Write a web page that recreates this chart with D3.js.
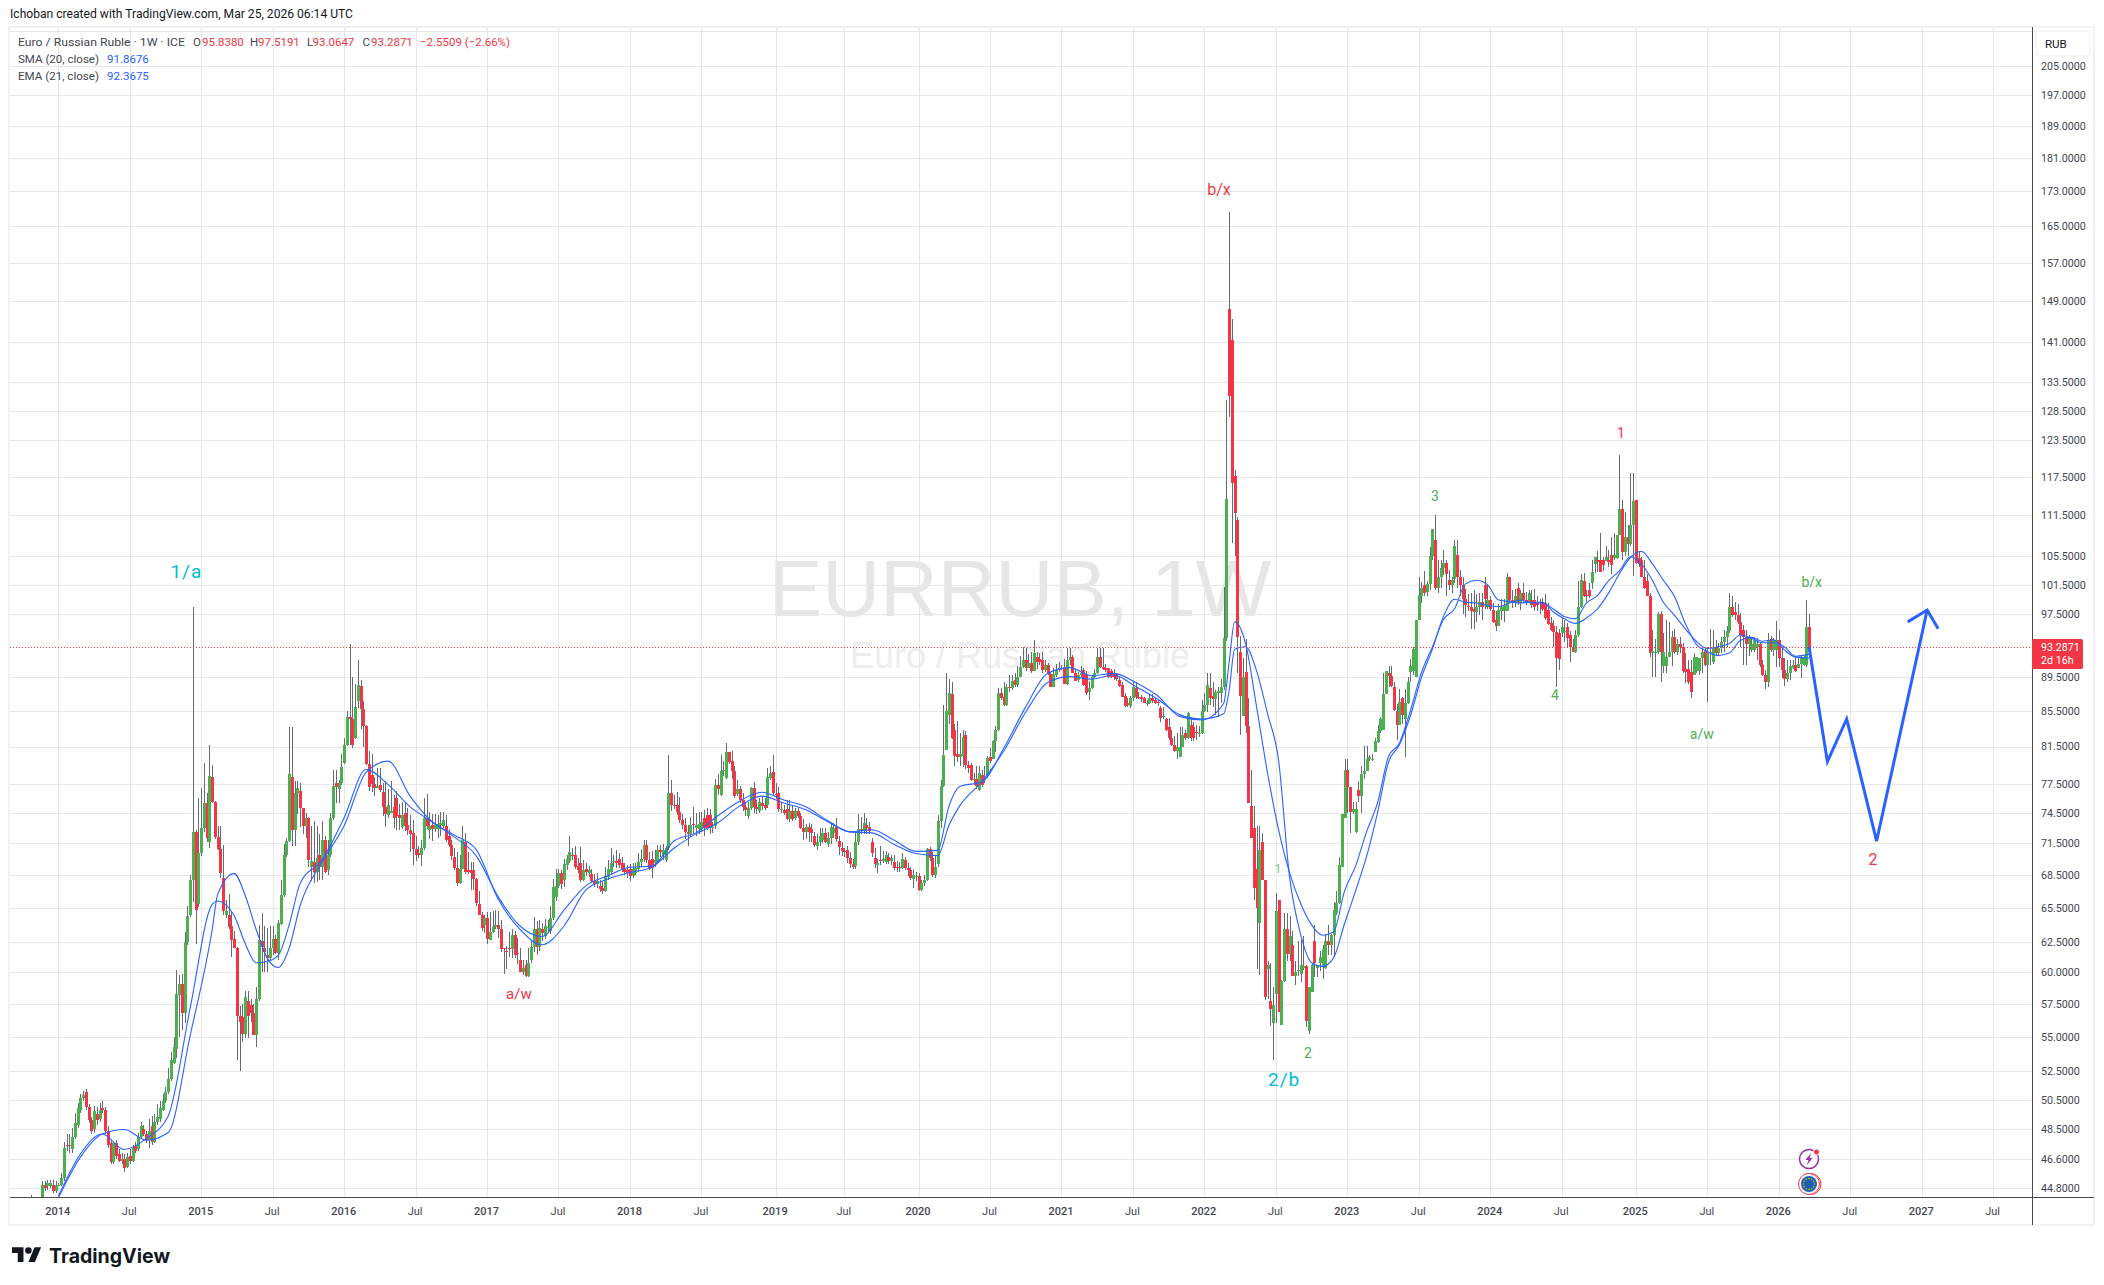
<!DOCTYPE html>
<html>
<head>
<meta charset="utf-8">
<title>EURRUB 1W</title>
<script src="https://cdn.jsdelivr.net/npm/d3@7"></script>
<style>
  html, body { margin: 0; padding: 0; background: #fff; }
  svg { display: block; }
  text { font-family: Roboto, "Liberation Sans", sans-serif; }
</style>
</head>
<body>
<svg id="chart" width="2104" height="1285"></svg>
<script>
// weekly bars, index 0 = first bar at the left edge of the pane
const opens = [
  43.9,44,43.9,44,44.1,45,44.9,44.9,45,44.6,
  45,45,45.4,47.5,47.5,47.2,48,48.8,49.8,50.6,
  51,50,49.1,48.5,49.5,49.2,49.9,49.8,48.4,47.6,
  46.4,47.6,46.9,46.5,46.6,46.1,46.8,46.5,47.4,47.2,
  48,48.5,48.2,47.8,48.7,47.7,49,49.2,49.8,50.4,
  51,51.9,53.1,54.1,58.2,59.1,56.8,62.5,64.9,68,
  72.6,65.8,70.5,73,75.5,71.6,78.2,75.6,72.1,70.9,
  68.2,64.9,64.9,63.9,62.8,62,56.6,56.5,55.2,57.7,
  57.4,56.8,55.1,57.9,62.6,62,61.4,61.2,62,62.8,
  61.6,64.1,66.6,70.4,71.7,78.2,72.8,76.5,76.7,75,
  73.2,74,69.2,69.7,68.8,70.4,69.2,71.8,68.9,70.4,
  74,77.6,76.9,77.6,79.7,81.7,84.8,84.6,82.4,86.7,
  88.5,85.7,83.8,79.6,78.4,77.5,77,77.4,76.6,75.1,
  74.3,74.5,75.1,76,74.3,73.1,74.5,73.3,72.8,72.5,
  70.9,70.5,70.4,71,74,72.8,73.3,72.9,72.9,73.3,
  73.2,73.2,72.2,71.3,70.2,69.1,67.7,69,71.6,68.9,
  68.9,68.9,68.1,65.8,64.9,64,64.6,62.7,63.4,63.8,
  64,63.6,62,61.8,62,61.9,63.1,61.6,61,60,
  60.6,59.7,61,62.1,63.6,62.1,63.6,63,63.7,63.5,
  64.6,66.5,67.5,68.7,68,69.4,69.8,70.4,70.4,69.3,
  69.6,68,69,68.7,68.6,67.9,67.6,67.5,67.3,67,
  68.3,68.8,69.7,69.8,70,69.6,69,68.9,69,68.4,
  68.7,69,69.7,70,71.3,69.9,70,69.6,69.9,70.8,
  70.4,69.9,71,76.5,75.3,75.3,74.6,73.8,73.3,72.6,
  72.4,73.4,73,72.9,73,74,74.3,74.3,73,73.2,
  77.4,76.3,78.9,78.1,80.9,79.9,78.8,76.4,76.9,75.8,
  75.1,74.2,75,77,75.1,74.7,75.5,75.3,75.3,78.1,
  78.7,76.4,76.5,74.9,74.8,74.9,73.9,74.7,74,74.7,
  74.2,73,72.6,73.1,72.9,72.2,71.2,71.6,71.8,72.5,
  71.4,72,72.5,73.1,71.7,71,70.7,70.8,70.1,69.5,
  69.3,71.6,72.9,72.7,73.3,73.1,71.6,70.1,69.4,69.9,
  69.8,69.7,70.2,69.8,69.7,69.2,69.2,69.1,69.9,69.1,
  68.9,68.1,68.4,68.4,67.1,67.7,68,70.9,70.1,68.5,
  69.5,73.7,77.3,81.1,85.1,87.5,83.4,80.7,80.4,80.5,
  82.8,79.5,79.5,77.9,78,76.8,78.4,77.9,78.3,80.3,
  80.1,82.1,83.4,87.6,87.1,86.2,88.3,88.2,89.2,88.6,
  89.6,90.8,91.7,90.7,91.3,90.3,92,91.8,91.6,90.4,
  91,89.9,88.4,89.8,90.4,90.6,90.6,88.7,91.7,92,
  90,89.2,89.8,90.4,89.9,87.7,88.2,89.5,90,92,
  90.8,90.6,90.6,90.3,90,89.9,89.2,88.6,87.3,86.4,
  86.1,87,88.2,87.2,87.1,87,86.4,86.4,87,86.8,
  86.6,85.9,84.8,84.6,83.7,82.5,81.7,81,80.3,81.5,
  83,82.4,83.9,83.7,83.1,83,83,85.5,86.2,88.2,
  87.3,86.9,87.6,87.6,88.3,94.4,147.5,141.4,117.6,110.8,
  92.7,85,90.2,83.8,75.2,73,69,64.2,71.6,68,
  60.3,57.7,56,58.3,66.2,55.9,59.3,63.6,61.5,62.3,
  59.7,60.2,59.9,60.4,60.5,55.4,58.4,62.6,60.4,60.8,
  60.5,60.4,62.6,62.3,63.1,65,65.9,69.2,74,78.9,
  77.1,74.6,72.6,76.8,76.2,78.5,78.8,80.1,80,80.9,
  82,83.2,83.4,87.5,90.1,89.7,88.3,85.5,83.9,87,
  84.6,86.4,90.2,90.3,89.6,96.8,100,101.5,100.5,101.6,
  105.5,107.8,101,102.6,103.8,104.5,102.2,101.5,102.3,105.6,
  102.6,101.4,99.5,98.6,98.5,98.2,97.8,98.5,99.2,101.5,
  98.5,99.4,98.1,96.7,96,97.9,98,98,102.5,99.4,
  99.2,101,99,100.3,99.4,99.2,99.4,99.4,99.2,99.2,
  99.2,99,98.1,96.3,95.9,95.2,95.1,95.1,95.2,95.8,
  94.8,93.3,92.7,94.8,98.5,102,100.1,100.7,101.7,104.4,
  104.9,104.9,104.9,104.8,104.9,105.6,105.2,105.2,108.6,112.4,
  106.1,108.2,107.2,110,113.9,105.2,105,102.6,102,100,
  92.5,92.5,92.6,97.6,90.9,90.9,92,92.6,94.5,92.6,
  93.6,93.3,90.5,90.5,90.2,89.8,90.3,90.3,91.9,92.8,
  91,92.5,91.4,93.2,92.5,93.1,93.9,94.6,95.3,98.5,
  97.8,97.4,96.5,95.4,94.6,93.7,92.9,92.9,93.3,93.6,
  91,89.8,88.9,94.3,92.9,92.9,94.2,91.9,90.4,89.3,
  90,90.7,91,90.6,91.1,91,91,95.838
];
const highs = [
  44.4,44.2,44.2,44.2,45.2,45.2,45.3,45.3,45.3,45.2,
  45.1,45.7,47.7,48.2,48.2,48.6,49.6,50.3,50.9,51.1,
  51.2,50.2,49.3,50.1,50,50.3,50.4,50,48.7,47.8,
  47.7,47.8,47.2,47,46.9,47,47.2,47.5,47.7,48.3,
  49,48.8,48.4,49.2,49.4,49.5,50.2,50.4,50.9,51.4,
  52.7,53.9,55,60.2,59.8,59.9,63.4,65.7,68.5,98.4,
  72.8,76,77,79.7,76.5,81.7,79.5,75.7,73.2,73.2,
  71.3,66.2,66.7,65.2,63.5,62.1,57.3,57.5,58.5,58.5,
  57.9,57.5,58.8,64,65,63.9,63.7,63.9,63.9,63.1,
  64.4,68,71.4,72,83.7,83.7,77.8,77.8,77.6,75,
  74.5,74.1,73.2,73.7,73.2,72.4,73.7,72.2,71.8,74.5,
  79,79,77.9,80.7,82.5,85.5,93.6,89.5,88.7,91.6,
  89.2,86.7,83.9,81,80.7,78.2,79.2,79.2,77.6,77.8,
  76.9,77.8,76.3,76.7,75.4,75.6,75.6,75,74.3,73.8,
  72.2,71.2,71.8,76,76.4,74.6,74.4,74.4,74.3,74.6,
  74.6,74.3,72.9,71.8,71,70.6,70.4,73.2,72.5,70.6,
  69.7,69.7,68.2,67,65.1,64.9,65.1,65.1,65.2,65.3,
  65.2,64.4,62,62.2,63.4,63.6,63.5,62.9,62,61,
  61,62,62.6,64.7,64.3,64.4,64.2,64.5,64.4,65.7,
  68.1,69,69,68.9,70,70.4,72.2,71,71.2,70.1,
  71.1,69.9,69.6,69.3,69,68.6,68.7,68,67.9,69.2,
  69.9,71,70.4,70.8,70.5,70.2,69.6,69.4,69.5,69.6,
  69.6,70.5,70.9,71.8,71.8,70.6,70.7,70.8,71.3,71.3,
  71.4,71.2,80.6,77.9,76.3,76.6,76.1,74.4,74,73.3,
  74.1,75.1,74.5,74.6,74.6,74.8,75,74.9,73.6,78,
  78.5,80.6,79.9,81.9,80.9,81,79.4,77.9,77.3,76.5,
  75.6,75.6,77.2,77.7,75.8,76,76.2,76,79.2,79.4,
  80.6,77.6,77.1,75.6,75.3,75.8,75.8,75.2,75,75,
  74.5,73.9,73.4,73.5,73.4,72.6,72.4,73,73,73,
  72.6,73.4,73.5,74,72.2,71.6,71,71.2,70.6,70,
  72.5,74.4,74.1,74.5,74,73.6,72,71,70,71.2,
  70.7,70.7,70.5,70.4,70.4,69.8,69.7,70.5,70.2,69.6,
  69.2,69,68.8,68.7,68,68.5,71,71.1,70.6,70.4,
  74.3,77.9,86.2,90,89.3,89,84,84.4,83,83.4,
  83.2,79.9,79.7,78.6,79.4,79.4,79,79.4,80.5,81.3,
  82.2,83.8,88.2,88.2,89,88.7,89.8,89.8,90,90.9,
  92.1,93.3,93.2,92.4,92.6,94.2,92.6,92.5,92.7,91.7,
  91.3,90.2,90.7,91.2,91.4,91,91.8,93.2,93.1,92.3,
  90.5,90.2,90.9,90.6,90.3,89.1,89.8,90.5,93.1,93.1,
  93.1,91.2,90.5,90.5,90.5,90,89.6,88.9,87.6,87,
  87.3,88.9,89,87.7,87.4,87.1,86.8,87.5,87.5,87,
  86.8,86.1,86,84.7,84.7,83.4,82.7,83,83.7,83.7,
  83.4,85.4,84.8,84.3,83.9,83.8,86.8,87.6,90,90,
  88.9,88,88.3,89.3,101.2,130.4,168.2,145.5,118.5,111.3,
  94.7,91.9,94.3,87,79,75.2,73.2,73.2,72.5,68,
  60.9,60.8,58.8,66.8,66.2,59.4,65,65,64.8,63.5,
  60.9,62.6,62.8,63,60.6,58.8,60.8,64,60.6,61.8,
  62.3,63.2,64,63.2,66,67,70.2,74.4,80.1,80.1,
  77.2,75.6,75.6,77.8,79.4,81.6,81.6,80.6,80.7,82.5,
  83.9,84.8,90,90.3,90.9,90.9,88.9,86.3,88.1,87.2,
  88.1,89.5,91.8,93.3,93.3,102.5,101.8,103.4,102,106.8,
  109.4,111.5,105,105,106.4,105,103.6,102.6,107.8,107.9,
  103.6,102.6,100.9,100.2,100.4,100.7,100.2,100.4,100.4,102.5,
  101.5,99.9,99,97.9,98.9,99.6,99.6,103.1,102.5,100.8,
  100.9,101.7,100.8,101.7,100.5,100.7,100.7,100.9,99.9,99.5,
  99.7,100.2,99,97.1,96.7,96,95.6,97,96.7,96.3,
  95.3,94.3,95.5,102,103,103.1,100.8,101.7,105,105.4,
  106.3,108.8,105.4,106.9,106.4,108.2,108.8,108.6,121,113.9,
  112,110.1,118,118.1,113.9,106.2,105.3,105,103,100.3,
  95.5,94.3,97.8,97.9,95.1,96.7,96.5,95.3,95.6,94.3,
  94.6,93.8,92.5,91.6,91.6,92.5,91.8,91.6,93.2,93.3,
  93.3,95.6,95.5,94.2,93.8,94.6,95.5,96,100.4,100,
  99.2,98.9,97.7,96.1,95.5,94.8,94.4,94.6,94.4,93.9,
  91.6,90.4,95.1,94.7,94.4,96.6,95.5,93.3,91.9,91.6,
  91.6,91.6,92.2,92,92.2,92.2,99.4,97.5191
];
const lows = [
  43.7,43.8,43.8,43.9,44,44.6,44.7,44.8,44.5,44.5,
  44.9,44.9,45.2,47.1,47,47,47.9,48.6,49.6,50.4,
  49.8,48.9,48.2,48.3,48.8,49,49.6,48.2,47.3,46.3,
  46.3,46.6,46.4,46.3,45.8,46,46.3,46.4,47,47.1,
  47.9,48.1,47.6,47.3,47.5,47.6,48.8,49,49.7,50.3,
  50.9,51.8,53,53.4,55,55.5,56,62.3,64.7,66,
  62.4,65.6,70.3,72.6,71.6,71,75.5,71.9,70.8,68.2,
  64.9,64.6,63.6,61.3,62,53.3,52.5,54.6,54.9,54.9,
  56.1,55.1,54.2,57.7,60,60,60,60.9,61.4,61.5,
  61,64,66.5,70.2,71.6,71.2,71.2,74.4,73.1,72.4,
  72,69.2,67.9,67.7,67.8,68,68,68.7,68.5,70.2,
  73.8,75.5,75.5,77.4,79.6,81.6,81.7,81.3,82.3,85.9,
  83.5,81.5,79.5,76.7,76.6,76.2,77,76.6,74.2,73.1,
  74,74.5,73,72.8,72.8,72.9,72.7,72.3,70.6,69.4,
  69.8,70.1,69.3,70.8,72.9,71.9,71.7,72.6,72,72.2,
  73,71.6,71.1,69.9,68.9,67.5,67.6,69,68.6,68.6,
  67.1,67.1,65.7,64.9,63.5,63.3,62.4,62.7,63.3,63.6,
  62.9,61.7,59.9,60.3,61.3,61.2,61.2,60.7,60,59.8,
  59.6,59.6,60.8,61.7,61.4,61.8,62.6,62.8,63.3,63.2,
  64.4,66.1,67.3,67.2,67.4,68.9,69.6,69.9,69,68.7,
  67.8,67.9,68.4,68.3,67.7,67.4,67.3,66.9,66.7,66.9,
  68,68.6,69.2,69.1,69.1,68.8,68.5,68.2,67.9,68.2,
  68.5,68.8,69.2,69.7,69.6,68.9,68.2,69.2,69.5,70.2,
  69.9,69.7,70.8,74.7,74.9,74.3,73.5,72.9,71.9,71.2,
  72.1,72.4,72.2,72.4,72.6,72.2,72.8,72.4,72.5,72.9,
  76.3,76.2,78.3,78,79.6,78,76,76.2,75.5,74.7,
  74.2,73.9,74.8,74.5,74.4,74.5,74.8,74.8,75,77.9,
  76.2,75.9,74.6,74.5,74.3,73.8,73.6,73.7,73.8,74,
  72.9,71.8,71.9,71.6,71.6,71.1,70.8,71.2,71.5,71.5,
  71.1,71.4,72,71.6,70.4,70.3,70.2,69.6,69.1,69,
  69,71.3,72.4,72.4,72.4,72.4,70.2,69.1,68.7,69.4,
  69.6,69.5,69.5,69.4,68.9,68.8,68.8,69,68.9,68.4,
  68,67.3,67.9,67,67,67.5,67.9,69.8,68.3,68.2,
  69.2,73,77.2,81.1,84,82.3,79.4,79.8,79.4,79.3,
  79.1,78.6,77.8,77.4,76.9,76.7,77.2,77.6,78.1,79.7,
  81.2,80.9,83.2,86.8,86.1,86.1,87.8,88,88.4,88.4,
  89.5,90.7,90.3,90.6,90.1,90.3,90.5,91,90.1,90.2,
  89.8,88.3,88.3,89.5,90.2,90.4,88.7,88.6,91,90,
  89.1,89,89.6,88.5,87.4,86.8,88.1,89.4,89.9,90.7,
  90.4,90.2,89.4,89.4,89.2,89.1,88.3,87.1,86,86,
  85.9,86.7,86.9,86.9,86.6,86.4,86.1,86.3,86.5,86.3,
  86.1,84.3,84.6,83.2,82.2,81.6,80.9,80.1,80.3,81.4,
  82.2,82.3,82.1,82.1,82.2,82.6,82.9,85.4,85.4,86.2,
  86,85.1,84.8,86.4,88,94,127.4,107.4,105.5,90,
  82.8,85,83,75.5,72,66.2,60.3,59.8,68,57.8,
  57.9,55.8,53.3,56,56.9,55.9,59.2,60.9,60.9,59.7,
  59,59.7,59.2,60.2,55.7,55.2,58.4,59.6,59.6,60.1,
  59.5,60.3,61.4,61.4,61.3,64.9,65.8,69.2,74,74.5,
  72.5,74.4,72.5,75.6,74.5,78,79,79.9,79.9,80.9,
  81.9,83,83.3,87.5,88.4,88.4,85.5,82.2,83.9,84,
  80.4,86.3,89,89.8,89.6,96.8,99,100,99.9,100.7,
  105,100.8,100.3,101.1,102.8,100,100.8,100.3,101.7,101,
  100,97.5,97.2,97.9,95.6,95.6,96.5,97.4,96.7,98.2,
  98.2,98,96.3,95.3,95.9,96.7,96.5,97.9,99,98.3,
  98.4,98.7,98.1,99,98.8,99,98.3,97.9,97.9,97.6,
  97.9,96.8,96.1,95.3,93.3,88.3,90.4,94.6,93.9,93.3,
  91.4,92.6,92.5,94.6,98.3,99.8,99.2,99.7,100.9,103.1,
  103.2,103.3,103.4,104.9,103.9,103,104.9,105.1,108.6,104.9,
  105.5,105.5,107,102.7,104.4,103.9,102.6,100.9,100,92,
  89.5,89.5,92.4,89,90,90,92,90.9,92.4,92.3,
  92.5,90,88.8,88.7,87,89.8,90,89.8,90,90.9,
  86.6,91,91.2,92.3,92.3,92.5,92.7,93.3,95,97.2,
  96.7,96.2,93.3,91,91,92.2,92.6,92.6,91.6,90.8,
  89.7,88.1,88.3,92.7,92.2,90.8,90.8,89.4,88.5,88.9,
  89.2,90.5,90.2,90.6,89.4,90.9,90.8,93.0647
];
const closes = [
  44,43.9,44,44.1,45,44.8,45.1,45.1,44.6,45,
  45,45.4,47.3,47.4,47.4,48,48.9,49.9,50.6,50.8,
  50,49.1,48.4,49.7,49.1,49.8,49.8,48.4,47.5,46.4,
  47.6,46.8,46.5,46.6,46,46.7,46.5,47.3,47.1,48,
  48.7,48.2,47.8,48.4,47.7,49,49.3,49.9,50.4,51,
  51.9,53.3,54.2,58.3,59.1,56.8,62.5,64.8,68,72.6,
  65.3,70.5,73,75.5,72,78.3,75.6,72.1,70.9,68.7,
  65.2,65.2,63.8,62.7,62,56.6,56.1,55.2,58,56.6,
  56.8,55.1,57.9,62.7,62.1,61.7,61.2,62,62.8,61.6,
  64.2,66.6,70.4,71.7,78.5,72.8,76.5,77,75,73.2,
  74,69.9,69.8,68.8,70.1,69.2,71.8,68.8,70.4,74,
  77.3,77.2,77.6,79.3,81.7,84.8,84.6,81.7,86,88.6,
  85.8,83.8,79.6,77.2,77.5,77,77.3,76.8,75.1,74.4,
  75.3,74.7,74,74.2,74,74.3,73.2,72.8,72.4,70.9,
  70.4,70.4,71,74,73.2,73.2,72.9,73.3,73.4,73.5,
  73.8,71.8,71.3,70.3,69.1,67.7,69,71.8,68.8,68.8,
  68.7,68.1,65.9,64.9,63.7,64.6,62.8,63.4,63.8,64,
  63.6,61.9,61.9,61.7,61.9,63.1,61.4,61.5,60,60.4,
  59.7,60.8,62.1,63.6,62.1,63.7,63.3,63.9,63.8,64.6,
  67.4,67.5,68.7,67.6,69.5,70,70.6,70.3,69.2,68.9,
  68,68.9,68.8,68.9,67.9,67.6,67.9,67.2,67,68.4,
  69,69.6,69.8,69.6,69.4,69,68.8,68.7,68.4,69,
  69.1,69.7,70,71.3,69.9,69,69.1,69.9,70.8,70.6,
  70.8,71,76.5,75.3,75.2,74.6,73.8,73.3,72.6,72.4,
  73.3,73.3,73.3,73.4,73.6,73,73,73.1,73.1,77.4,
  76.9,78.8,79,80.9,79.8,78.8,76.2,76.9,75.8,75.1,
  74.8,75,77,75.1,74.9,75.6,75.2,75,78.2,78.6,
  76.5,76.3,74.9,74.9,74.5,73.9,74.7,73.9,74.7,74.2,
  73,72.6,73.1,72.6,72.5,71.3,71.6,72.2,72.5,71.6,
  72,73.1,73,71.9,71.1,70.7,70.6,70.1,69.5,69.2,
  71.6,72.9,72.8,73.5,73,72.7,70.5,69.5,69.6,69.8,
  70,70.4,69.8,70.1,69.1,69.1,69.1,70,69.1,68.9,
  68.2,68.5,68.4,67.1,67.7,68,70.9,70.1,68.5,69.2,
  73.7,77.3,80.6,85.5,87.6,82.5,80.5,80.4,80.7,82.6,
  79.5,79.2,77.9,78,77.3,78.6,77.4,78,80.2,79.9,
  82.1,83.4,87.6,87,86.2,88.3,88.2,89.1,88.6,89.6,
  90.8,91.7,90.7,91.3,90.3,92.5,91.4,91.4,90.4,91,
  89.9,88.4,89.9,90.4,90.6,90.5,88.7,91.7,92,90,
  89.1,89.8,90,88.6,87.6,88.2,89.5,90,92,90.8,
  90.5,90.4,89.5,89.6,89.6,89.3,88.5,87.2,86.1,86.2,
  87,88.4,87.1,87,86.9,86.5,86.4,87,86.7,86.5,
  86.4,84.7,84.9,83.4,82.4,81.7,81,81.5,81.5,82.8,
  82.4,85.3,82.4,82.4,83,83,85.5,86.2,88.6,87,
  86.9,87.7,87.9,88.3,94.4,114,131,116.5,111.9,94.6,
  87.3,89.6,83.8,75.5,72,67.3,65.5,70.8,68,58,
  60.6,57.1,57.4,65.2,56.9,59.3,63.6,61.5,63,59.7,
  60,60.2,60.6,60.5,56.2,58.8,60.6,60.8,60.6,61.3,
  61.9,62.6,62.3,63.1,65.3,65.9,69.4,74.4,78.9,77.1,
  74.6,74.9,74.9,76.2,78.5,78.8,80.1,80.4,80.1,82.1,
  83.2,84.6,87.5,90.3,89.7,88.5,85.6,83.9,86.6,85.1,
  86.4,89,90.9,93,96.8,100.1,101,100.4,101.6,105.5,
  109.4,101,102.6,103.8,104.5,103,101.4,102.2,106.9,102.6,
  101.4,99.5,98.8,98.4,97.9,97.8,98.5,99.2,98.4,99.6,
  99.4,98.2,96.5,96,98.1,98.5,98.7,102.5,99.4,99.2,
  100,99.1,100.3,99.4,99.2,100.3,98.7,98.4,98.7,99,
  98.2,97,96.2,95.4,95.2,91.9,91.8,95.8,95.3,94.4,
  93.3,92.7,94.8,98.5,102.1,100,99.9,100,103.2,105.4,
  104.7,103.3,104.2,105.3,104.7,104.2,105.6,108.6,112.4,106.1,
  108.2,107.2,110,113.7,104.5,104.4,102.6,101,100,92.5,
  92.8,92.7,97.6,92.6,92.6,92,92.6,94.5,92.6,93.6,
  93.3,90.3,90.2,88.9,87.7,92,92,91.9,92.6,91,
  92.5,92.7,93.2,92.5,93.1,93.9,94.6,95.3,98.5,97.4,
  97.4,96.5,94.8,94.6,93.7,94.6,93.7,94.2,93.6,91,
  89.8,88.9,94.2,92.9,94.2,94.2,91.9,90.4,89.3,90,
  90.9,91,90.3,91.2,92,92,95.8,93.2871
];

// moving averages read every few bars
const lineBars = [10,18,26,34,42,50,58,66,68,74,78,82,86,90,94,98,106,114,122,130,138,146,154,162,170,178,186,194,202,210,218,226,234,242,250,258,266,274,282,290,298,306,314,322,330,334,338,346,354,362,370,378,386,394,402,410,418,426,434,436,438,442,446,450,454,458,462,466,470,474,478,482,486,490,494,498,502,506,510,514,518,522,526,530,534,538,542,546,550,554,558,562,566,570,574,578,582,586,590,594,598,602,606,610,614,618,622,626,630,634,638,642,647];
const smaValues = [44.3,46.9,48.2,47.2,47.9,49.4,57.2,65.8,66.1,64.8,62.4,60.8,60.9,61.4,64,67.7,69.9,74,79,77.4,75.1,73.6,72.1,70.3,66.5,63.9,63,65.3,67.5,68.4,69.2,69.3,71.7,72.5,74.2,75.7,76.6,75.8,75.1,73.7,72.6,72.8,71.8,70.7,70.8,75.1,77.2,77.7,81.3,86,90,90.7,89.7,90,88.9,87.3,84.9,84.5,86.4,91.3,96.5,93.7,86,78.6,72.8,68.7,65.9,64,63.1,63.4,67,69.3,72.6,75.5,80.4,81.9,85.6,90.1,93.3,96.8,98.2,101.6,102.1,101.5,99.4,99.2,99,99.1,99.1,97.8,96.9,96.3,97,98.2,100.3,103,105.3,106.2,104.4,102.1,99.9,96.3,93.6,92.7,92.2,92.5,94.1,94.5,94,94.2,92.9,92,91.87];
const emaValues = [44.2,46.7,48.2,48.5,47.8,48.3,55.1,63.6,66.7,68.6,66.6,63.6,61.2,60.4,62,65.7,69.7,73.2,78.7,79.9,76.2,73.6,72.3,70.9,66.3,63.6,62.3,63.9,67.1,68.1,68.7,69.2,71,72.4,73.5,75.2,76.2,75.5,74.8,73.6,72.6,72.5,71.4,70.5,70.3,73.2,75.2,77.7,81,85.4,88.9,89.6,89.3,89.8,88.4,86.9,85.1,84.6,85.2,87.9,93,93.3,90.3,85.2,80,68.3,63.2,60.8,60.5,61.2,64.1,67,70.2,74.5,79.8,81.7,85,89.5,93,97.2,99.5,99.1,99,98.7,98.5,99,99.4,99,99,98.2,97.2,96.9,99,100,102,103.4,105.4,104.4,102.1,99.1,97.4,95.6,94,93.1,93.3,93.7,94.8,94.4,93.8,93.8,93.3,92.1,92.37];

// forecast path drawn on the chart
const pathBars = [647,653.7,660.7,671.6,690];
const pathPrices = [93.29,79.85,84.6,71.7,98.07];
const headBars = [682.9,690,694];
const headPrices = [96.5,98.07,95.6];

const priceTicks = [205,197,189,181,173,165,157,149,141,133.5,128.5,123.5,117.5,111.5,105.5,101.5,97.5,89.5,85.5,81.5,77.5,74.5,71.5,68.5,65.5,62.5,60,57.5,55,52.5,50.5,48.5,46.6,44.8];
const tickBars = [10,36,62,88,114,140,166,192,218,244,271,296,323,349,375,401,427,453,479,505,531,557,584,610,636,662,688,714];
const tickLabels = ["2014","Jul","2015","Jul","2016","Jul","2017","Jul","2018","Jul","2019","Jul","2020","Jul","2021","Jul","2022","Jul","2023","Jul","2024","Jul","2025","Jul","2026","Jul","2027","Jul"];

const noteTexts = ["1/a","2/b","b/x","a/w","1","2","3","1","4","a/w","b/x","2"];
const noteBars = [56.6,456,432.3,177.6,453.8,464.7,510.9,578.6,554.6,608,648,670.3];
const notePrices = [103.4,51.9,173.5,58.3,69.1,53.8,114.5,124.7,87.4,82.9,101.9,69.9];
const noteColors = ["#00bcd4","#00bcd4","#f23645","#f23645","#81c784","#4caf50","#4caf50","#f23645","#4caf50","#4caf50","#4caf50","#f23645"];
const noteSizes = [19,19,16,15,13,14,14,14,14,14,14,16];

const lastClose = 93.2871;
const bull = "#4caf50", bear = "#f23645", wick = "#666a73", lineBlue = "#2962ff", gridCol = "#e8e8e8", axisText = "#434651";

const pane = {left: 10, right: 2032, top: 28, bottom: 1197};
const frame = {left: 9, right: 2094, top: 27, bottom: 1225};

const x = d3.scaleLinear().domain([10, 647]).range([58.3, 1809]);
const y = d3.scaleLog().domain([44.8, 205]).range([1188, 66]);

const svg = d3.select("#chart");
svg.append("rect").attr("width", 2104).attr("height", 1285).attr("fill", "#fff");

svg.append("defs").append("clipPath").attr("id", "pane")
  .append("rect")
  .attr("x", pane.left).attr("y", pane.top)
  .attr("width", pane.right - pane.left).attr("height", pane.bottom - pane.top);

svg.append("text").attr("x", 10).attr("y", 18)
  .attr("font-size", 12).attr("fill", "#131722")
  .attr("textLength", 343).attr("lengthAdjust", "spacingAndGlyphs")
  .text("Ichoban created with TradingView.com, Mar 25, 2026 06:14 UTC");

// watermark
const marks = svg.append("g").attr("text-anchor", "middle");
marks.append("text").attr("x", 1020).attr("y", 616)
  .style("font-family", "'Liberation Sans'").attr("font-size", 80).attr("fill", "#e6e6e6")
  .text("EURRUB, 1W");
marks.append("text").attr("x", 1020).attr("y", 668)
  .style("font-family", "'Liberation Sans'").attr("font-size", 36).attr("fill", "#eeeeee")
  .text("Euro / Russian Ruble");

// grid
const grid = svg.append("g").attr("stroke", gridCol).attr("shape-rendering", "crispEdges");
grid.selectAll(".h").data(priceTicks.concat([215])).join("line")
  .attr("x1", pane.left).attr("x2", pane.right)
  .attr("y1", d => Math.round(y(d))).attr("y2", d => Math.round(y(d)));
grid.selectAll(".v").data(tickBars).join("line")
  .attr("y1", pane.top).attr("y2", pane.bottom)
  .attr("x1", d => Math.round(x(d))).attr("x2", d => Math.round(x(d)));

const plot = svg.append("g").attr("clip-path", "url(#pane)");

// candles
const bars = d3.range(opens.length);
plot.append("g").attr("stroke", wick).attr("shape-rendering", "crispEdges")
  .selectAll("line").data(bars).join("line")
  .attr("x1", i => Math.round(x(i)) + 0.5).attr("x2", i => Math.round(x(i)) + 0.5)
  .attr("y1", i => y(highs[i])).attr("y2", i => y(lows[i]));
plot.append("g").attr("shape-rendering", "crispEdges")
  .selectAll("rect").data(bars).join("rect")
  .attr("x", i => Math.round(x(i)) - 1)
  .attr("width", 3)
  .attr("y", i => y(Math.max(opens[i], closes[i])))
  .attr("height", i => Math.max(1, Math.abs(y(opens[i]) - y(closes[i]))))
  .attr("fill", i => closes[i] >= opens[i] ? bull : bear);

// moving averages
[smaValues, emaValues].forEach(vals => {
  const line = d3.line()
    .defined((d, k) => vals[k] !== undefined)
    .x(d => x(d))
    .y((d, k) => y(vals[k]))
    .curve(d3.curveMonotoneX);
  plot.append("path").datum(lineBars)
    .attr("fill", "none").attr("stroke", lineBlue).attr("stroke-width", 1.1)
    .attr("d", line);
});

// last price line
plot.append("line")
  .attr("x1", pane.left).attr("x2", pane.right)
  .attr("y1", Math.round(y(lastClose)) + 0.5).attr("y2", Math.round(y(lastClose)) + 0.5)
  .attr("stroke", bear).attr("stroke-width", 1).attr("stroke-dasharray", "1 2");

// forecast drawing
const drawLine = d3.line().x(d => x(d[0])).y(d => y(d[1]));
plot.append("path").datum(d3.zip(pathBars, pathPrices))
  .attr("fill", "none").attr("stroke", lineBlue).attr("stroke-width", 3).attr("d", drawLine);
plot.append("path").datum(d3.zip(headBars, headPrices))
  .attr("fill", "none").attr("stroke", lineBlue).attr("stroke-width", 3).attr("d", drawLine);

// wave labels
svg.append("g").attr("text-anchor", "middle")
  .selectAll("text").data(noteTexts).join("text")
  .attr("x", (d, k) => x(noteBars[k]))
  .attr("y", (d, k) => y(notePrices[k]))
  .attr("dy", "0.35em")
  .attr("font-size", (d, k) => noteSizes[k])
  .attr("fill", (d, k) => noteColors[k])
  .attr("letter-spacing", (d, k) => k < 2 ? 1 : 0)
  .text(d => d);

// frame
svg.append("rect")
  .attr("x", frame.left).attr("y", frame.top)
  .attr("width", frame.right - frame.left).attr("height", frame.bottom - frame.top)
  .attr("fill", "none").attr("stroke", "#f2f2f2").attr("stroke-width", 2);

// axes
const axisRight = d3.axisRight(y).tickValues(priceTicks)
  .tickFormat(d => d.toFixed(4)).tickSize(0).tickPadding(9);
const gy = svg.append("g").attr("transform", `translate(${pane.right},0)`).call(axisRight);
gy.select(".domain").remove();
gy.selectAll("text").style("font-family", "Roboto").attr("font-size", 10.7).attr("fill", axisText);

const axisBottom = d3.axisBottom(x).tickValues(tickBars)
  .tickFormat((d, k) => tickLabels[k]).tickSize(0).tickPadding(10);
const gx = svg.append("g").attr("transform", `translate(-1,${pane.bottom})`).call(axisBottom);
gx.select(".domain").remove();
gx.selectAll("text").style("font-family", "Roboto").attr("font-size", 11).attr("fill", axisText)
  .attr("font-weight", (d, k) => tickLabels[k] === "Jul" ? 400 : 500);

svg.append("line").attr("x1", pane.right + 0.5).attr("x2", pane.right + 0.5)
  .attr("y1", frame.top).attr("y2", frame.bottom).attr("stroke", "#4a4a4a");
svg.append("line").attr("x1", pane.left).attr("x2", frame.right)
  .attr("y1", pane.bottom + 0.5).attr("y2", pane.bottom + 0.5).attr("stroke", "#4a4a4a");

// currency button
svg.append("rect").attr("x", 2036).attr("y", 31).attr("width", 54).attr("height", 25).attr("rx", 3)
  .attr("fill", "#fff").attr("stroke", "#f0f0f0");
svg.append("text").attr("x", 2045).attr("y", 48).attr("font-size", 11.5).attr("fill", "#131722").text("RUB");

// last price tag
svg.append("rect").attr("x", pane.right).attr("y", 639).attr("width", 51).attr("height", 30).attr("rx", 2).attr("fill", bear);
svg.append("text").attr("x", 2041).attr("y", 651).attr("font-size", 10.7).attr("fill", "#fff").text(lastClose.toFixed(4));
svg.append("text").attr("x", 2041).attr("y", 664).attr("font-size", 10.7).attr("fill", "#fff").text("2d 16h");

// legend
const legendRows = [
  [18, 46, axisText, "Euro / Russian Ruble · 1W · ICE", 167],
  [193, 46, axisText, "O"], [202, 46, bear, "95.8380"],
  [250, 46, axisText, "H"], [258, 46, bear, "97.5191"],
  [307, 46, axisText, "L"], [312.5, 46, bear, "93.0647"],
  [362.5, 46, axisText, "C"], [371, 46, bear, "93.2871"],
  [420, 46, bear, "−2.5509 (−2.66%)", 90],
  [18, 63, axisText, "SMA (20, close)", 81], [107, 63, lineBlue, "91.8676"],
  [18, 80, axisText, "EMA (21, close)", 81], [107, 80, lineBlue, "92.3675"]
];
svg.append("g").attr("font-size", 11.5)
  .selectAll("text").data(legendRows).join("text")
  .attr("x", d => d[0]).attr("y", d => d[1]).attr("fill", d => d[2])
  .attr("textLength", d => d[4] || null).attr("lengthAdjust", "spacingAndGlyphs")
  .text(d => d[3]);

// event icons under the last bars
const iconX = x(647);
const bolt = svg.append("g").attr("transform", `translate(${iconX},1159)`);
bolt.append("circle").attr("r", 9.5).attr("fill", "#fff").attr("stroke", "#9c27b0").attr("stroke-width", 1.5);
bolt.append("path").attr("d", "M2,-6 L-3.5,1 L-0.5,1 L-2,6 L3.5,-1 L0.5,-1 Z").attr("fill", "#9c27b0");
bolt.append("circle").attr("cx", 7.5).attr("cy", -7).attr("r", 3).attr("fill", bear).attr("stroke", "#fff");

const flag = svg.append("g").attr("transform", `translate(${iconX},1184)`);
flag.append("circle").attr("cx", 1.5).attr("r", 10.5).attr("fill", "#fff").attr("stroke", bear);
flag.append("circle").attr("r", 10.5).attr("fill", "#fff").attr("stroke", bear);
flag.append("circle").attr("r", 8).attr("fill", "#1a5fb4");
flag.selectAll(".star").data(d3.range(12)).join("circle")
  .attr("cx", d => 5.5 * Math.cos(d * Math.PI / 6))
  .attr("cy", d => 5.5 * Math.sin(d * Math.PI / 6))
  .attr("r", 0.8).attr("fill", "#f5c400");

// logo
const logo = svg.append("g").attr("transform", "translate(12,1244) scale(0.82)");
logo.append("path").attr("d", "M14 22H7V11H0V4h14v18zM28 22h-8l7.5-18h8L28 22z").attr("fill", "#131722");
logo.append("circle").attr("cx", 20).attr("cy", 8).attr("r", 4).attr("fill", "#131722");
svg.append("text").attr("x", 49).attr("y", 1263)
  .style("font-family", "Inter").attr("font-size", 20).attr("font-weight", 700).attr("fill", "#131722")
  .attr("textLength", 121).attr("lengthAdjust", "spacingAndGlyphs")
  .text("TradingView");
</script>
</body>
</html>
